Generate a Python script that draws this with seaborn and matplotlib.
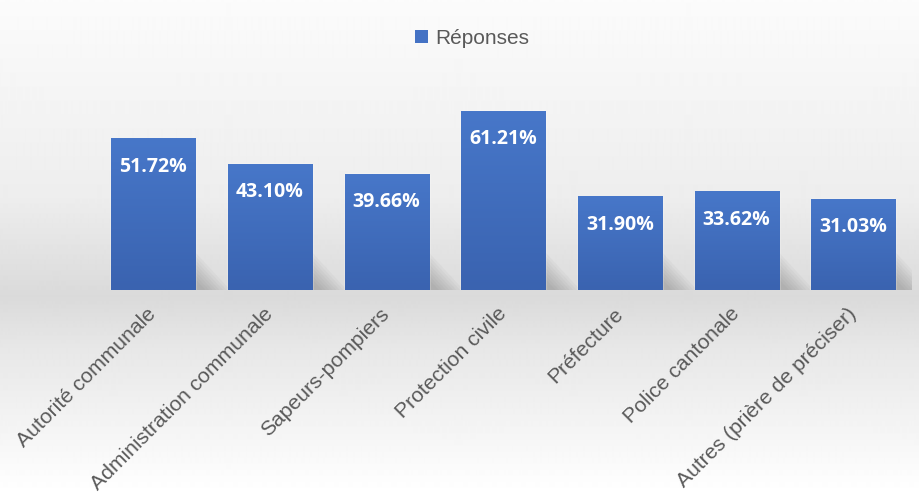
import numpy as np
import pandas as pd
import matplotlib.pyplot as plt
import seaborn as sns
from matplotlib.patches import Patch, Polygon
from matplotlib.colors import LinearSegmentedColormap

# Data
categories = [
    "Autorité communale",
    "Administration communale",
    "Sapeurs-pompiers",
    "Protection civile",
    "Préfecture",
    "Police cantonale",
    "Autres (prière de préciser)",
]
values = [51.72, 43.10, 39.66, 61.21, 31.90, 33.62, 31.03]
series_name = "Réponses"

BAR_COLOR = "#4472C4"
TEXT_GRAY = "#595959"

df = pd.DataFrame({"categorie": categories, "pct": values})

sns.set_theme(style="white")
plt.rcParams["font.family"] = ["Liberation Sans", "DejaVu Sans"]

fig = plt.figure(figsize=(9.2, 4.95), dpi=100)

# Background: light gradient with a darker "floor" band under the bars
bg = fig.add_axes([0, 0, 1, 1], zorder=-5)
yy = np.linspace(0, 1, 495)
shade = np.interp(yy, [0.0, 0.40, 0.56, 0.60, 0.70, 1.0],
                  [0.985, 0.93, 0.87, 0.855, 0.905, 1.0])
bg.imshow(np.repeat(shade[:, None], 2, axis=1), cmap="gray", vmin=0, vmax=1,
          aspect="auto", extent=[0, 1, 0, 1], interpolation="bilinear")
bg.set_xlim(0, 1)
bg.set_ylim(0, 1)
bg.axis("off")

ax = fig.add_axes([0.103, 0.414, 0.888, 0.465])
ax.patch.set_alpha(0)

sns.barplot(data=df, x="categorie", y="pct", color=BAR_COLOR, width=0.72,
            saturation=1, ax=ax, zorder=3)

bar_cmap = LinearSegmentedColormap.from_list("bar", ["#3a63b0", "#4777c9"])
grad = np.linspace(0, 1, 100)[:, None]

for p, lab in zip(ax.patches, values):
    x0, w, h = p.get_x(), p.get_width(), p.get_height()
    x1 = x0 + w
    # soft shadow on the floor, to the right of each bar
    for k in range(8):
        s = 1 - k * 0.1
        ax.add_patch(Polygon([(x1, 0), (x1, 13 * s), (x1 + 0.30 * s, 0)],
                             closed=True, facecolor="#555555", alpha=0.045,
                             edgecolor="none", zorder=2))
    # vertical gradient inside the bar
    ax.imshow(grad, cmap=bar_cmap, vmin=0, vmax=1, aspect="auto",
              extent=[x0, x1, 0, h], origin="lower", zorder=4)
    ax.annotate(f"{lab:.2f}%", (x0 + w / 2, h), xytext=(0, -20),
                textcoords="offset points", ha="center", va="center",
                color="white", fontweight="bold", fontsize=14,
                family=["Open Sans", "DejaVu Sans"], zorder=6)

ax.set_xlim(-0.5, len(categories) - 0.5)
ax.set_ylim(0, 78.8)
ax.set_xticks(range(len(categories)))
ax.set_xticklabels(categories, rotation=45, ha="right", va="center",
                   rotation_mode="anchor", color=TEXT_GRAY, fontsize=15.2)
ax.tick_params(axis="x", length=0, pad=15)
ax.set_yticks([])
ax.set_xlabel("")
ax.set_ylabel("")
sns.despine(ax=ax, left=True, bottom=True)

fig.legend(handles=[Patch(facecolor=BAR_COLOR, edgecolor="none")],
           labels=[series_name], loc="center",
           bbox_to_anchor=(472 / 920, 1 - 38 / 495), frameon=False,
           handlelength=0.6, handleheight=0.6, handletextpad=0.35,
           fontsize=15, labelcolor=TEXT_GRAY)

fig.savefig("out.png", dpi=100)
